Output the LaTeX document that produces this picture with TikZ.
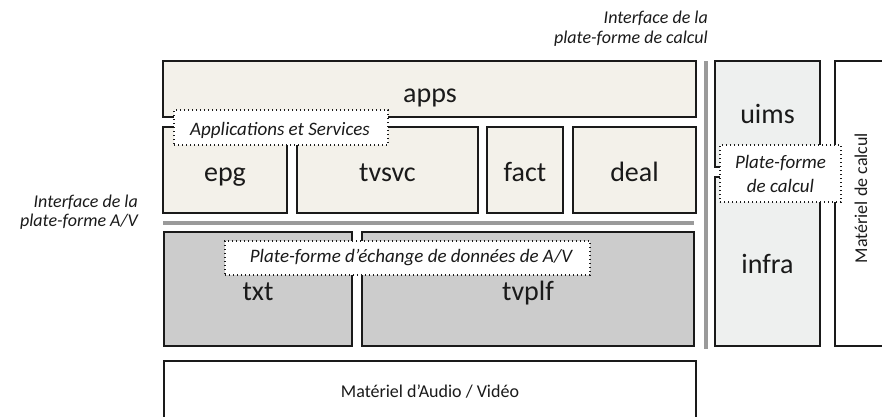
\documentclass[tikz,border=0pt]{standalone}
\usepackage{fontspec}
\setmainfont{Carlito}
\usetikzlibrary{fit}
\definecolor{beige}{HTML}{F3F1EA}
\definecolor{midgray}{HTML}{CCCCCC}
\definecolor{lightgray}{HTML}{EEF0EF}
\definecolor{sepgray}{HTML}{9A9A9A}
\definecolor{ink}{HTML}{1A1A1A}
\tikzset{
  box/.style={draw=ink, line width=1.4pt, inner sep=0pt, rectangle},
  tag/.style={draw=ink, fill=white, line width=1.1pt, dash pattern=on 1.1pt off 2.9pt, inner sep=0pt, rectangle},
  big/.style={text=ink, inner sep=0pt, font=\fontsize{28}{32}\selectfont, anchor=base},
  ital/.style={text=ink, inner sep=0pt, font=\fontsize{18}{20}\selectfont\itshape, anchor=base},
  tagtext/.style={text=ink, inner sep=0pt, font=\fontsize{19}{21}\selectfont\itshape, anchor=base},
  plain/.style={text=ink, inner sep=0pt, font=\fontsize{18}{20}\selectfont, anchor=base},
  sep/.style={draw=sepgray, line width=3.5pt}
}
\begin{document}
\begin{tikzpicture}[x=1pt,y=-1pt]
\useasboundingbox (0,0) rectangle (882,416);
\clip (0,0) rectangle (882,416);
% application layer
\node[box, fill=beige, fit={(163,61)(696,117)}] (apps) {};
\node[box, fill=beige, fit={(163,127)(287,213)}] (epg) {};
\node[box, fill=beige, fit={(297,127)(478,213)}] (tvsvc) {};
\node[box, fill=beige, fit={(487,127)(563,213)}] (fact) {};
\node[box, fill=beige, fit={(573,127)(696,213)}] (deal) {};
\node[big] (appsT) at (430,102) {apps};
\node[big] (epgT) at (225,181) {epg};
\node[big] (tvsvcT) at (387.5,181) {tvsvc};
\node[big] (factT) at (525,181) {fact};
\node[big] (dealT) at (634.5,181) {deal};
% A/V interface separator
\coordinate (hsA) at (163,223);
\coordinate (hsB) at (694,223);
\draw[sep] (hsA) -- (hsB);
% A/V platform layer
\node[box, fill=midgray, fit={(164,232)(352,346)}] (txt) {};
\node[box, fill=midgray, fit={(362,232)(694,346)}] (tvplf) {};
\node[big] (txtT) at (258,300) {txt};
\node[big] (tvplfT) at (528,300) {tvplf};
% hardware A/V
\node[box, fill=white, fit={(164,361)(696,440)}] (avhw) {};
\node[plain] (avhwT) at (430,397) {Matériel d’Audio / Vidéo};
% computing interface separator
\coordinate (vsA) at (706,61);
\coordinate (vsB) at (706,349);
\draw[sep] (vsA) -- (vsB);
% computing platform
\node[box, fill=lightgray, fit={(715,61)(820,167)}] (uims) {};
\node[box, fill=lightgray, fit={(715,177)(820,346)}] (infra) {};
\node[big] (uimsT) at (767.5,123) {uims};
\node[big] (infraT) at (767.5,273) {infra};
% computing hardware
\node[box, fill=white, fit={(835,61)(900,346)}] (cphw) {};
\node[plain, rotate=90] (cphwT) at (867,198) {Matériel de calcul};
% dotted tags
\node[tag, fit={(174,110)(388,145)}] (tagApps) {};
\node[tagtext] (tagAppsT) at (280,135) {Applications et Services};
\node[tag, fit={(225,241)(590,275)}] (tagAV) {};
\node[tagtext] (tagAVT) at (411,262) {Plate-forme d’échange de données de A/V};
\node[tag, fit={(720,145)(841,202)}] (tagCalc) {};
\node[tagtext] (tagCalcT1) at (780.5,168) {Plate-forme};
\node[tagtext] (tagCalcT2) at (780.5,192) {de calcul};
% interface labels
\node[ital, anchor=base east] (ifcCalc1) at (708,23) {Interface de la};
\node[ital, anchor=base east] (ifcCalc2) at (708,43) {plate-forme de calcul};
\node[ital, anchor=base east] (ifcAV1) at (138,207) {Interface de la};
\node[ital, anchor=base east] (ifcAV2) at (138,226) {plate-forme A/V};
\end{tikzpicture}
\end{document}
